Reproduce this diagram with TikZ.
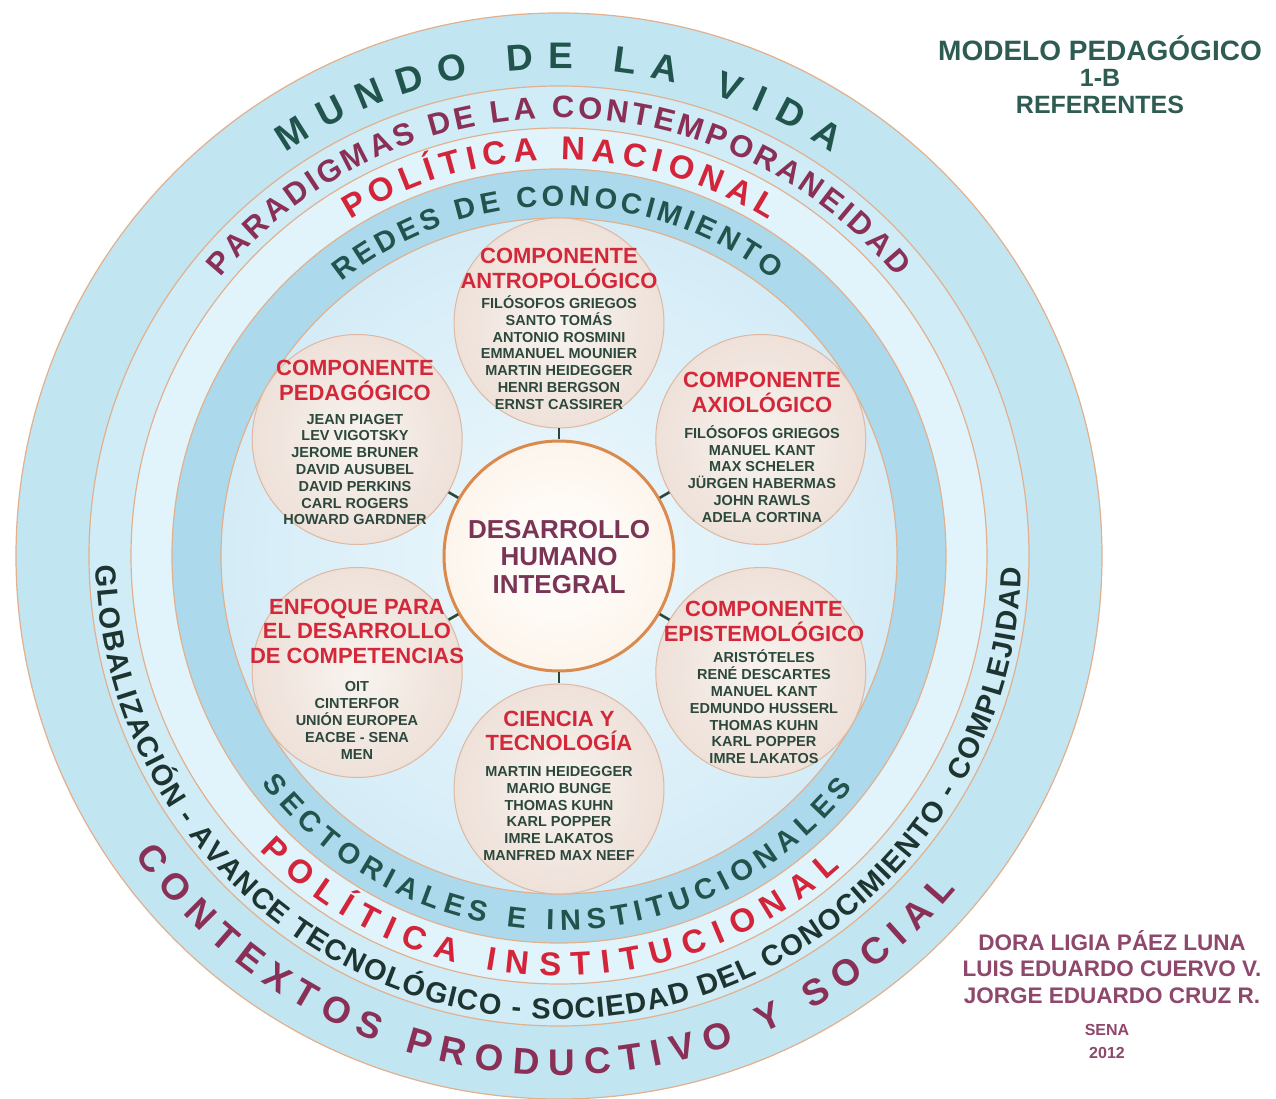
\documentclass[tikz,border=0pt]{standalone}
\usepackage{fontspec}
\setmainfont{Liberation Sans}
\usetikzlibrary{decorations.text}
\definecolor{bandA}{RGB}{194,229,242}
\definecolor{bandB}{RGB}{208,236,247}
\definecolor{bandC}{RGB}{226,244,251}
\definecolor{bandD}{RGB}{172,218,236}
\definecolor{innerIn}{RGB}{238,248,252}
\definecolor{innerOut}{RGB}{212,236,247}
\definecolor{ringline}{RGB}{226,176,140}
\definecolor{tealdark}{RGB}{34,84,78}
\definecolor{plum}{RGB}{138,48,86}
\definecolor{redpol}{RGB}{212,36,58}
\definecolor{redtitle}{RGB}{210,40,58}
\definecolor{namegreen}{RGB}{44,72,60}
\definecolor{globdark}{RGB}{30,52,48}
\definecolor{centertxt}{RGB}{122,52,86}
\definecolor{satIn}{RGB}{248,243,239}
\definecolor{satOut}{RGB}{238,225,217}
\definecolor{satLine}{RGB}{222,184,160}
\definecolor{dhiLine}{RGB}{218,138,76}
\definecolor{dhiOut}{RGB}{253,245,236}
\definecolor{connc}{RGB}{45,70,55}
\definecolor{titlegreen}{RGB}{46,92,82}
\definecolor{authorc}{RGB}{142,72,108}
\newcommand\ringtext[6]{%
  \path[decorate,decoration={text along path,text align=fit to path,text color=#1,
    text={|\bfseries\fontsize{#2}{#2}\selectfont|#6}}]
    (#4:#3pt) arc[start angle=#4,end angle=#5,radius=#3pt];}
\tikzset{
  ringedge/.style={draw=ringline, line width=1.2pt},
  sat/.style={circle, draw=satLine, line width=1pt, inner color=satIn, outer color=satOut, minimum size=210pt, inner sep=0pt},
  dhic/.style={circle, draw=dhiLine, line width=3pt, inner color=white, outer color=dhiOut, minimum size=230pt, inner sep=0pt},
  connline/.style={draw=connc, line width=2.6pt},
  sattitle/.style={font=\bfseries\fontsize{22}{24.5}\selectfont, text=redtitle, align=center, inner sep=0pt},
  satnames/.style={font=\bfseries\fontsize{14.5}{16.8}\selectfont, text=namegreen, align=center, inner sep=0pt},
  dhitext/.style={font=\bfseries\fontsize{26}{27.5}\selectfont, text=centertxt, align=center, inner sep=0pt},
  headtext/.style={font=\bfseries, text=titlegreen, align=center, inner sep=0pt},
  authortext/.style={font=\bfseries\fontsize{22.5}{26.5}\selectfont, text=authorc, align=center, inner sep=0pt}
}
\begin{document}
\begin{tikzpicture}[x=1pt,y=1pt]
\useasboundingbox (-559,-543) rectangle (717,556);
\fill[white] (-559,-543) rectangle (717,556);
% rings
\fill[bandA] (0,0) circle (543pt);
\fill[bandB] (0,0) circle (470pt);
\fill[bandC] (0,0) circle (428pt);
\fill[bandD] (0,0) circle (387pt);
\shade[inner color=innerIn, outer color=innerOut] (0,0) circle (338pt);
\foreach \rr in {543,470,428,387,338} \draw[ringedge] (0,0) circle (\rr pt);
% ring texts (top)
\ringtext{tealdark}{37}{487}{124.1}{55.9}{MUNDO DE LA VIDA}
\ringtext{plum}{31}{438}{140.6}{39.5}{PARADIGMAS DE LA CONTEMPORANEIDAD}
\ringtext{redpol}{33}{396}{121.8}{58}{POLÍTICA NACIONAL}
\ringtext{tealdark}{29}{350}{128.4}{52.2}{REDES DE CONOCIMIENTO}
% ring texts (bottom)
\ringtext{tealdark}{29}{374}{217.4}{321.8}{SECTORIALES E INSTITUCIONALES}
\ringtext{redpol}{33}{420}{224.5}{312.1}{POLÍTICA INSTITUCIONAL}
\ringtext{globdark}{29}{463}{181.2}{358.5}{GLOBALIZACIÓN - AVANCE TECNOLÓGICO - SOCIEDAD DEL CONOCIMIENTO - COMPLEJIDAD}
\ringtext{plum}{37}{519}{215.2}{320}{CONTEXTOS PRODUCTIVO Y SOCIAL}
% circles
\node[dhic] (dhi) at (0,0) {};
\node[sat] (ant) at (90:233pt) {};
\node[sat] (ped) at (150:233pt) {};
\node[sat] (axi) at (30:233pt) {};
\node[sat] (epi) at (-30:233pt) {};
\node[sat] (cyt) at (-90:233pt) {};
\node[sat] (enf) at (210:233pt) {};
\foreach \s in {ant,ped,axi,epi,cyt,enf} \draw[connline] (dhi) -- (\s);
% center text
\node[dhitext] (dhit) at (0,-1) {DESARROLLO\\HUMANO\\INTEGRAL};
% satellite texts
\node[sattitle] (antt) at (0,287.5) {COMPONENTE\\ANTROPOLÓGICO};
\node[satnames] (antn) at (0,203.5) {FILÓSOFOS GRIEGOS\\SANTO TOMÁS\\ANTONIO ROSMINI\\EMMANUEL MOUNIER\\MARTIN HEIDEGGER\\HENRI BERGSON\\ERNST CASSIRER};
\node[sattitle] (pedt) at (-204,175.5) {COMPONENTE\\PEDAGÓGICO};
\node[satnames] (pedn) at (-204,86.5) {JEAN PIAGET\\LEV VIGOTSKY\\JEROME BRUNER\\DAVID AUSUBEL\\DAVID PERKINS\\CARL ROGERS\\HOWARD GARDNER};
\node[sattitle] (axit) at (203,163.5) {COMPONENTE\\AXIOLÓGICO};
\node[satnames] (axin) at (203,82) {FILÓSOFOS GRIEGOS\\MANUEL KANT\\MAX SCHELER\\JÜRGEN HABERMAS\\JOHN RAWLS\\ADELA CORTINA};
\node[sattitle] (epit) at (205,-65.5) {COMPONENTE\\EPISTEMOLÓGICO};
\node[satnames] (epin) at (205,-151) {ARISTÓTELES\\RENÉ DESCARTES\\MANUEL KANT\\EDMUNDO HUSSERL\\THOMAS KUHN\\KARL POPPER\\IMRE LAKATOS};
\node[sattitle] (cytt) at (0,-175) {CIENCIA Y\\TECNOLOGÍA};
\node[satnames] (cytn) at (0,-257.5) {MARTIN HEIDEGGER\\MARIO BUNGE\\THOMAS KUHN\\KARL POPPER\\IMRE LAKATOS\\MANFRED MAX NEEF};
\node[sattitle] (enft) at (-202,-75) {ENFOQUE PARA\\EL DESARROLLO\\DE COMPETENCIAS};
\node[satnames] (enfn) at (-202,-164.5) {OIT\\CINTERFOR\\UNIÓN EUROPEA\\EACBE - SENA\\MEN};
% heading
\node[headtext, font=\bfseries\fontsize{28}{28}\selectfont] (h1) at (541,508) {MODELO PEDAGÓGICO};
\node[headtext, font=\bfseries\fontsize{25}{25}\selectfont] (h2) at (541,478) {1-B};
\node[headtext, font=\bfseries\fontsize{25}{25}\selectfont] (h3) at (541,451) {REFERENTES};
% authors
\node[authortext] (au) at (553,-411) {DORA LIGIA PÁEZ LUNA\\LUIS EDUARDO CUERVO V.\\JORGE EDUARDO CRUZ R.};
\node[authortext, font=\bfseries\fontsize{16}{23}\selectfont] (sena) at (548,-485.5) {SENA\\2012};
\end{tikzpicture}
\end{document}
